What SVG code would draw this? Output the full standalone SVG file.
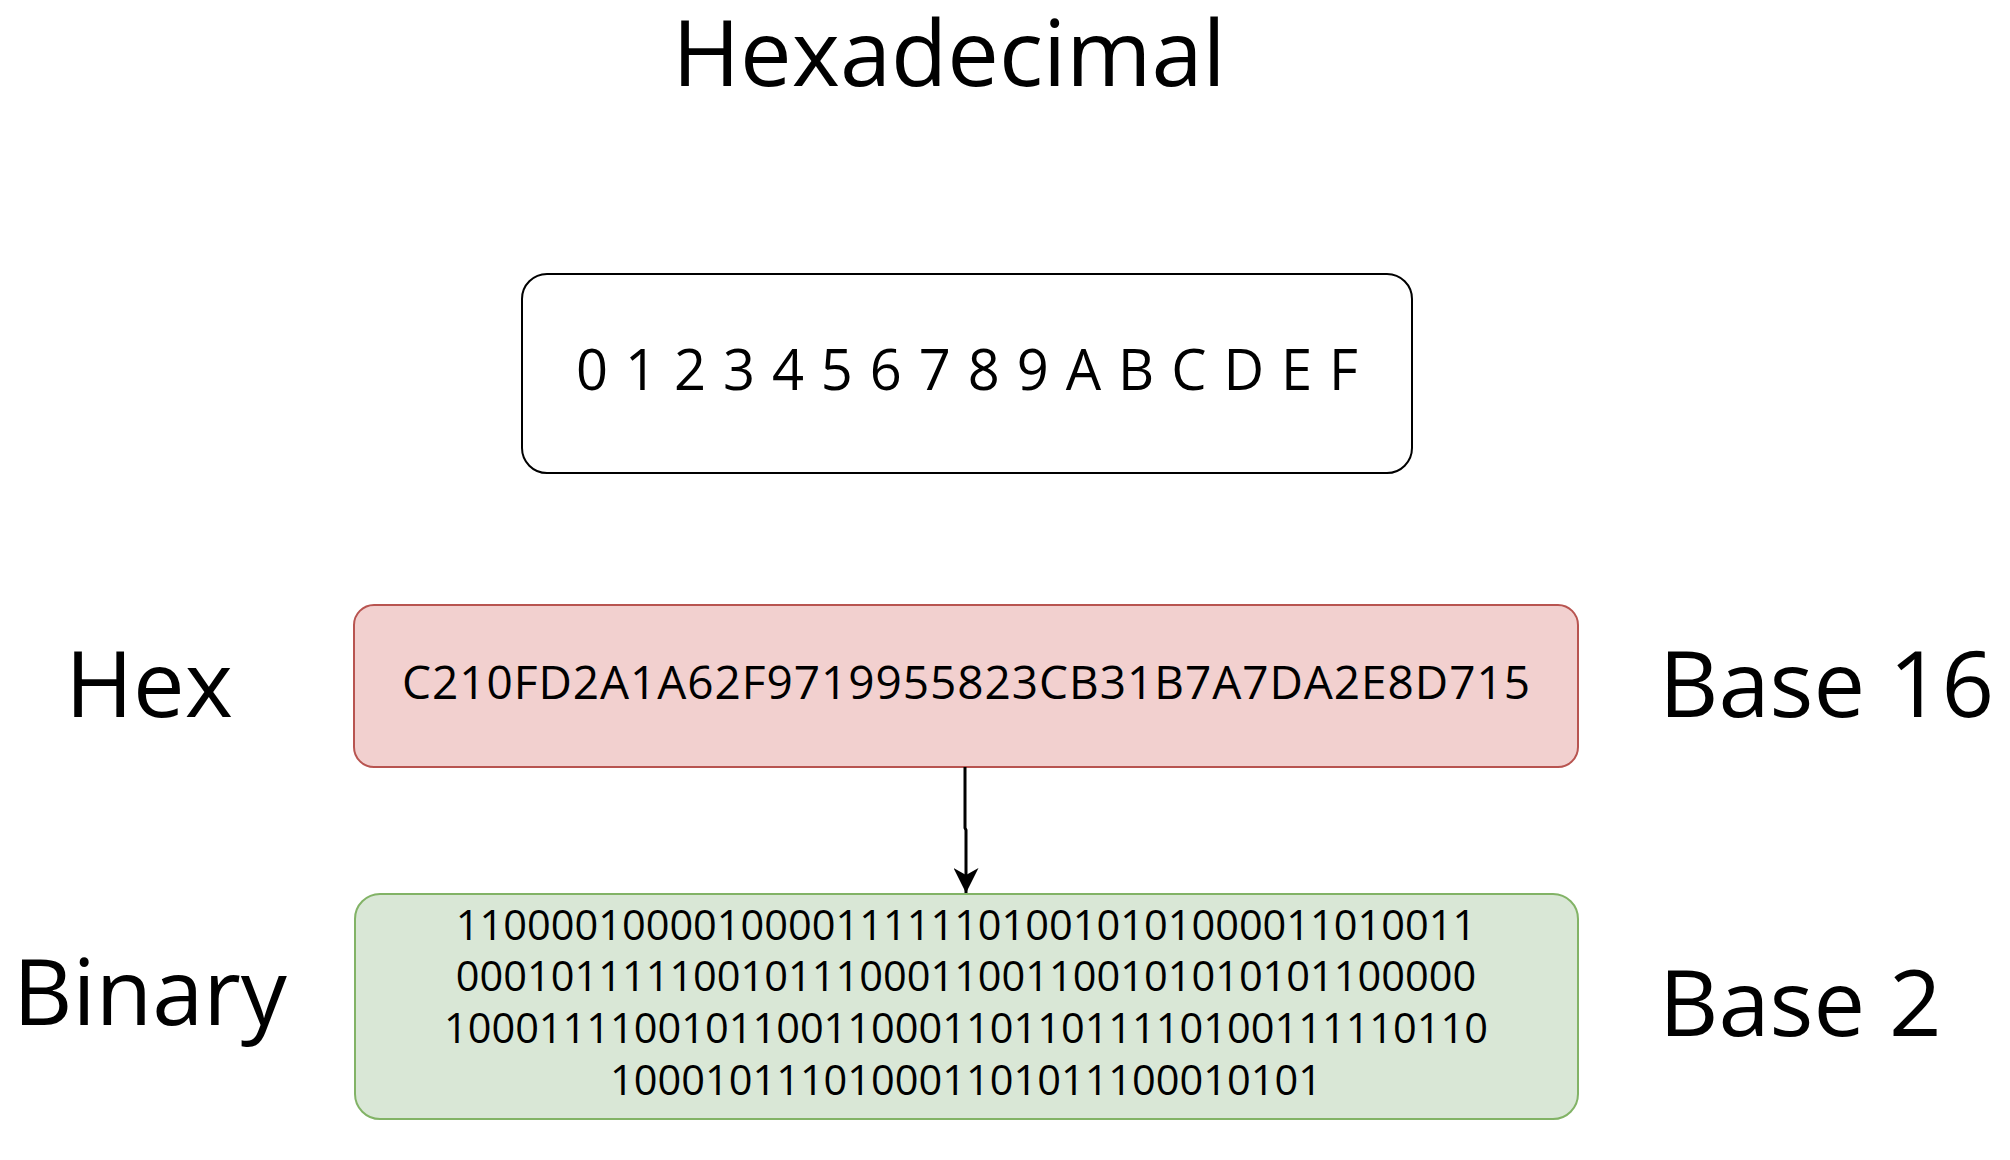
<svg xmlns="http://www.w3.org/2000/svg" width="2010" height="1160" viewBox="0 0 2010 1160">
<style>
text{font-family:"Open Sans","Noto Sans","DejaVu Sans",sans-serif;fill:#000}
.big{font-size:92px}
.c{text-anchor:middle}
.bin{font-size:41.5px;text-anchor:middle}
</style>
<defs>
<marker id="arr" viewBox="0 0 25 25" refX="25" refY="12.5" markerWidth="25" markerHeight="25" markerUnits="userSpaceOnUse" orient="auto">
<path d="M0,0 L25,12.5 L0,25 L7,12.5 Z" fill="#000"/>
</marker>
</defs>
<rect width="2010" height="1160" fill="#fff"/>
<g id="title"><text class="big c" x="949" y="86">Hexadecimal</text></g>
<g id="digits">
<rect x="522" y="274" width="890" height="199" rx="25" fill="#fff" stroke="#000" stroke-width="2"/>
<text class="c" x="967" y="390" font-size="56" textLength="782" lengthAdjust="spacing">0 1 2 3 4 5 6 7 8 9 A B C D E F</text>
</g>
<g id="hex">
<rect x="354" y="605" width="1224" height="162" rx="20" fill="#f2d0cf" stroke="#b85450" stroke-width="2"/>
<text class="c" x="966" y="699" font-size="46" textLength="1128" lengthAdjust="spacing">C210FD2A1A62F9719955823CB31B7A7DA2E8D715</text>
</g>
<g id="binary">
<rect x="355" y="894" width="1223" height="225" rx="25" fill="#d9e7d6" stroke="#82b366" stroke-width="2"/>
<text class="bin" x="966" y="940">1100001000010000111111010010101000011010011</text>
<text class="bin" x="966" y="991">0001011111001011100011001100101010101100000</text>
<text class="bin" x="966" y="1043">10001111001011001100011011011110100111110110</text>
<text class="bin" x="966" y="1095">100010111010001101011100010101</text>
</g>
<g id="label-hex"><text class="big c" x="149" y="717">Hex</text></g>
<g id="label-binary"><text class="big c" x="150" y="1025">Binary</text></g>
<g id="label-base16"><text class="big" x="1659" y="717">Base 16</text></g>
<g id="label-base2"><text class="big" x="1659" y="1036">Base 2</text></g>
<g id="connectors">
<path d="M965,767 L965,828 L966,830 L966,893" fill="none" stroke="#000" stroke-width="3" marker-end="url(#arr)"/>
</g>
</svg>
